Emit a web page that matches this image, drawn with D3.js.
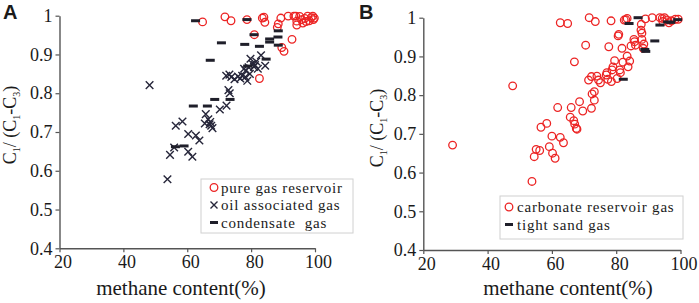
<!DOCTYPE html>
<html>
<head>
<meta charset="utf-8">
<script src="https://cdn.jsdelivr.net/npm/d3@7"></script>
<style>
  body { margin: 0; background: #fff; }
  svg { display: block; }
  svg text { font-family: "Liberation Serif", "DejaVu Serif", "Times New Roman", serif; fill: #1a1a1a; }
</style>
</head>
<body>
<div id="chart"></div>
<script>
// Panel A: gas types
const pureGasA = [
  [64.8, 0.984], [71.8, 0.997], [73.7, 0.987], [78.7, 0.990], [81.0, 0.951],
  [83.5, 0.994], [84.0, 0.996], [84.3, 0.983], [82.6, 0.838], [88.2, 0.970],
  [88.5, 0.979], [89.3, 0.994], [89.6, 0.918], [90.3, 0.908], [92.8, 0.939],
  [91.6, 0.999], [93.4, 0.999], [94.0, 0.999], [94.3, 0.986], [94.3, 0.976],
  [95.2, 0.998], [95.8, 0.990], [96.2, 0.981], [96.8, 0.993], [97.2, 0.985],
  [97.7, 0.999], [98.2, 0.987], [98.8, 0.995], [99.3, 0.999], [99.5, 0.990],
  [99.8, 0.994]
];
const oilAssocA = [
  [48.2, 0.821], [53.8, 0.578], [54.6, 0.641], [55.9, 0.660], [56.4, 0.716],
  [58.5, 0.727], [60.3, 0.695], [60.3, 0.649], [61.6, 0.636], [62.7, 0.691],
  [63.8, 0.678], [65.8, 0.746], [65.5, 0.722], [66.6, 0.733], [67.2, 0.726],
  [67.5, 0.716], [67.9, 0.710], [67.0, 0.720], [70.2, 0.758], [72.3, 0.768],
  [72.9, 0.808], [73.3, 0.800], [72.2, 0.845], [73.2, 0.848], [73.8, 0.842],
  [74.8, 0.836], [75.9, 0.843], [76.6, 0.838], [77.2, 0.845], [77.8, 0.863],
  [78.2, 0.842], [78.8, 0.832], [78.3, 0.858], [79.2, 0.867], [79.6, 0.850],
  [79.8, 0.889], [80.4, 0.876], [80.9, 0.868], [81.2, 0.873], [81.6, 0.882],
  [82.1, 0.863], [83.1, 0.898], [84.4, 0.871]
];
const condensateA = [
  [62.6, 0.987], [78.7, 0.990], [80.9, 0.951], [70.7, 0.930], [78.0, 0.926],
  [82.6, 0.921], [85.8, 0.940], [85.8, 0.932], [88.4, 0.945], [88.5, 0.961],
  [88.5, 0.924], [67.2, 0.885], [84.7, 0.888], [78.9, 0.870], [61.9, 0.767],
  [66.3, 0.767], [68.6, 0.784], [73.4, 0.784], [56.3, 0.662], [59.0, 0.664]
];

// Panel B: reservoir types
const carbonateB = [
  [29.1, 0.671], [47.8, 0.824], [53.8, 0.577], [54.5, 0.641], [55.1, 0.660],
  [56.2, 0.657], [56.6, 0.717], [58.4, 0.727], [59.2, 0.667], [60.0, 0.694],
  [60.2, 0.650], [61.0, 0.637], [61.8, 0.768], [62.6, 0.691], [63.6, 0.677],
  [62.6, 0.987], [64.9, 0.985], [65.7, 0.743], [66.0, 0.768], [66.8, 0.734],
  [67.1, 0.725], [67.6, 0.714], [67.8, 0.712], [67.0, 0.886], [68.6, 0.783],
  [69.6, 0.759], [70.5, 0.929], [71.6, 1.000], [73.5, 0.990], [71.4, 0.839],
  [72.3, 0.848], [72.3, 0.766], [72.5, 0.803], [73.2, 0.809], [73.2, 0.787],
  [74.0, 0.849], [74.5, 0.839], [75.1, 0.832], [76.9, 0.852], [77.1, 0.858],
  [77.4, 0.841], [77.7, 0.925], [78.4, 0.992], [78.5, 0.835], [78.7, 0.865],
  [79.0, 0.873], [79.5, 0.889], [80.3, 0.843], [80.6, 0.953], [80.8, 0.957],
  [81.1, 0.865], [81.3, 0.858], [81.8, 0.921], [82.1, 0.885], [82.5, 0.994],
  [83.0, 0.995], [83.4, 0.998], [83.4, 0.901], [83.7, 0.873], [84.2, 0.888],
  [84.6, 0.927], [85.5, 0.944], [85.7, 0.938], [86.0, 0.929], [87.7, 0.968],
  [87.8, 0.983], [88.0, 0.960], [88.0, 0.944], [88.4, 0.921], [88.6, 0.932],
  [89.1, 0.997], [91.2, 1.000], [93.6, 1.000], [94.3, 0.998], [94.5, 0.990],
  [95.0, 1.000], [95.8, 0.994], [96.4, 0.987], [97.2, 0.992], [98.4, 0.996],
  [99.3, 0.996]
];
const tightSandB = [
  [84.0, 0.985], [86.8, 1.000], [92.0, 0.940], [89.2, 0.913], [88.9, 0.918],
  [82.2, 0.841], [93.6, 0.981], [96.0, 0.989], [97.0, 0.988], [99.1, 0.995]
];

const xTicks = [20, 40, 60, 80, 100];
const yTicks = [0.4, 0.5, 0.6, 0.7, 0.8, 0.9, 1];
const xTitle = "methane content(%)";

const red = "#ec2424";
const dark = "#26263a";
const serif = "'Liberation Serif', 'DejaVu Serif', 'Times New Roman', serif";

const svg = d3.select("#chart").append("svg")
    .attr("width", 699)
    .attr("height", 303)
    .attr("font-family", serif);

// Draw one panel's axes and titles, return scales
function drawPanel(p) {
    const x = d3.scaleLinear().domain([20, 100]).range([p.left, p.right]);
    const y = d3.scaleLinear().domain([0.4, 1]).range([p.bottom, p.top]);

    const gx = svg.append("g")
        .attr("transform", `translate(0,${p.bottom})`)
        .call(d3.axisBottom(x).tickValues(xTicks).tickSize(4).tickSizeOuter(0).tickPadding(3));
    const gy = svg.append("g")
        .attr("transform", `translate(${p.left},0)`)
        .call(d3.axisLeft(y).tickValues(yTicks).tickSize(4).tickSizeOuter(0).tickPadding(3)
            .tickFormat(d => String(+d.toFixed(1))));

    [gx, gy].forEach(g => {
        g.attr("font-family", serif).attr("font-size", 18);
        g.select(".domain").attr("stroke", "#555").attr("stroke-width", 1.4);
        g.selectAll(".tick line").attr("stroke", "#555").attr("stroke-width", 1.2);
        g.selectAll(".tick text").attr("fill", "#1a1a1a");
    });
    gx.selectAll(".tick text").attr("dx", 3);

    svg.append("text")
        .attr("x", p.xTitleX)
        .attr("y", 295)
        .attr("text-anchor", "middle")
        .attr("font-size", 21)
        .text(xTitle);

    // C1/ (C1-C3) with subscripts
    const t = svg.append("text")
        .attr("transform", `translate(${p.yTitleX},${p.yTitleY}) rotate(-90)`)
        .attr("text-anchor", "middle")
        .attr("font-size", 18);
    const parts = [["C", false], ["1", true], ["/ (C", false], ["1", true], ["-C", false], ["3", true], [")", false]];
    parts.forEach(([s, sub], i) => {
        const ts = t.append("tspan").text(s);
        if (sub) ts.attr("dy", 4).attr("font-size", 10);
        else if (i > 0) ts.attr("dy", -4);
    });

    svg.append("text")
        .attr("x", p.labelX)
        .attr("y", 19)
        .style("font-family", "'Liberation Sans', Arial, sans-serif")
        .style("font-weight", "bold")
        .attr("font-size", 20)
        .attr("fill", "#111")
        .text(p.label);

    return {x, y};
}

function circles(sc, data) {
    svg.append("g").selectAll("circle")
        .data(data)
        .join("circle")
        .attr("cx", d => sc.x(d[0]))
        .attr("cy", d => sc.y(d[1]))
        .attr("r", 3.8)
        .attr("fill", "none")
        .attr("stroke", red)
        .attr("stroke-width", 1.3);
}

function crosses(sc, data) {
    const s = 3.8;
    svg.append("g").selectAll("path")
        .data(data)
        .join("path")
        .attr("d", d => {
            const cx = sc.x(d[0]), cy = sc.y(d[1]);
            return `M${cx - s},${cy - s}L${cx + s},${cy + s}M${cx - s},${cy + s}L${cx + s},${cy - s}`;
        })
        .attr("stroke", dark)
        .attr("stroke-width", 1.4)
        .attr("fill", "none");
}

function dashes(sc, data) {
    svg.append("g").selectAll("rect")
        .data(data)
        .join("rect")
        .attr("x", d => sc.x(d[0]) - 4.5)
        .attr("y", d => sc.y(d[1]) - 1.5)
        .attr("width", 9)
        .attr("height", 3)
        .attr("fill", "#1f1f2a");
}

function legend(box, items) {
    svg.append("rect")
        .attr("x", box.x).attr("y", box.y)
        .attr("width", box.w).attr("height", box.h)
        .attr("fill", "#fff")
        .attr("stroke", "#d0d0d0")
        .attr("stroke-width", 1);
    items.forEach((it, i) => {
        const by = box.y + box.first + i * box.step;
        const sx = box.x + box.symX, sy = by - 5;
        if (it.type === "circle") {
            svg.append("circle").attr("cx", sx).attr("cy", sy).attr("r", 3.8)
                .attr("fill", "none").attr("stroke", red).attr("stroke-width", 1.3);
        } else if (it.type === "cross") {
            svg.append("path")
                .attr("d", `M${sx - 3.5},${sy - 3.5}L${sx + 3.5},${sy + 3.5}M${sx - 3.5},${sy + 3.5}L${sx + 3.5},${sy - 3.5}`)
                .attr("stroke", dark).attr("stroke-width", 1.4);
        } else {
            svg.append("rect").attr("x", sx - 4).attr("y", sy - 1.5)
                .attr("width", 8).attr("height", 3).attr("fill", "#1f1f2a");
        }
        svg.append("text")
            .attr("x", box.x + box.textX)
            .attr("y", by)
            .attr("xml:space", "preserve")
            .style("white-space", "pre")
            .attr("font-size", 15)
            .attr("letter-spacing", 0.8)
            .text(it.name);
    });
}

const scA = drawPanel({left: 59.5, right: 315, top: 15.7, bottom: 248.3,
    xTitleX: 181, yTitleX: 16, yTitleY: 125, labelX: 3, label: "A"});
circles(scA, pureGasA);
crosses(scA, oilAssocA);
dashes(scA, condensateA);
legend({x: 201, y: 179, w: 152, h: 54, first: 13.5, step: 17.5, symX: 13, textX: 20},
    [{type: "circle", name: "pure gas reservoir"},
     {type: "cross", name: "oil associated gas"},
     {type: "dash", name: "condensate  gas"}]);

const scB = drawPanel({left: 423.3, right: 680.5, top: 17.7, bottom: 250,
    xTitleX: 568, yTitleX: 383, yTitleY: 128, labelX: 359, label: "B"});
circles(scB, carbonateB);
dashes(scB, tightSandB);
legend({x: 500, y: 196, w: 183, h: 43, first: 16, step: 17.5, symX: 9, textX: 17},
    [{type: "circle", name: "carbonate reservoir gas"},
     {type: "dash", name: "tight sand gas"}]);
</script>
</body>
</html>
